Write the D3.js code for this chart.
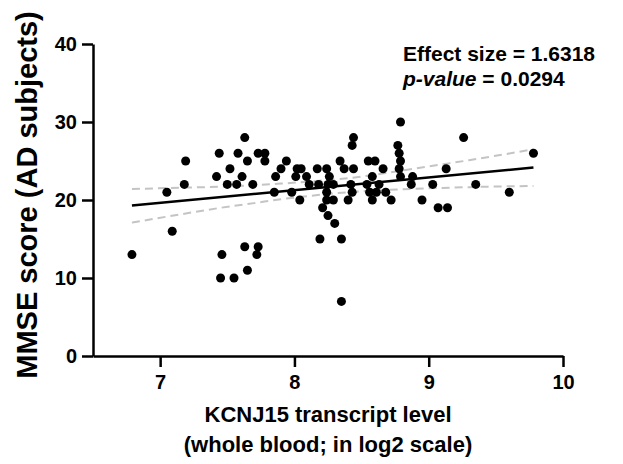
<!DOCTYPE html>
<html>
<head>
<meta charset="utf-8">
<script src="https://cdn.jsdelivr.net/npm/d3@7"></script>
<style>
  body { margin: 0; background: #fff; }
  text { font-family: "Liberation Sans", Arial, sans-serif; }
</style>
</head>
<body>
<div id="chart"></div>
<script>
// scatter points: KCNJ15 level (log2) vs MMSE score
const kcnj15 = [6.79, 7.05, 7.09, 7.18, 7.19, 7.42, 7.44, 7.46, 7.45, 7.50,
  7.52, 7.55, 7.57, 7.58, 7.61, 7.63, 7.65, 7.69, 7.73, 7.78,
  7.78, 7.63, 7.73, 7.72, 7.65, 7.86, 7.85, 7.90, 7.94, 7.98,
  8.01, 8.02, 8.05, 8.04, 8.09, 8.11, 8.17, 8.24, 8.26, 8.18,
  8.25, 8.24, 8.24, 8.21, 8.25, 8.30, 8.19, 8.35, 8.35, 8.34,
  8.37, 8.44, 8.44, 8.43, 8.29, 8.42, 8.54, 8.63, 8.43, 8.56,
  8.61, 8.68, 8.29, 8.40, 8.58, 8.72, 8.95, 8.55, 8.60, 8.66,
  8.78, 8.58, 8.79, 8.88, 8.79, 8.77, 8.78, 8.79, 8.87, 9.03,
  9.07, 9.14, 9.26, 9.78, 9.13, 9.35, 9.60];
const mmse = [13, 21, 16, 22, 25, 23, 26, 13, 10, 22,
  24, 10, 22, 26, 23, 28, 25, 22, 26, 26,
  25, 14, 14, 13, 11, 23, 21, 24, 25, 21,
  23, 24, 24, 20, 23, 22, 24, 24, 23, 22,
  22, 21, 20, 19, 18, 17, 15, 15, 7, 25,
  24, 24, 28, 27, 22, 22, 22, 22, 21, 21,
  21, 21, 20, 20, 20, 20, 20, 25, 25, 24,
  24, 23, 23, 23, 30, 27, 26, 25, 22, 22,
  19, 19, 28, 26, 24, 22, 21];

// regression line and 95% band
const fitX = [6.79, 9.78];
const fitY = [19.28, 24.16];
const bandX = [6.79, 7.2, 7.45, 7.7, 7.9, 8.1, 8.4, 8.7, 9.0, 9.3, 9.78];
const bandLow = [17.1, 18.3, 19.0, 19.6, 20.1, 20.5, 21.0, 21.3, 21.5, 21.65, 21.8];
const bandHigh = [21.4, 21.6, 21.7, 21.9, 22.1, 22.35, 22.8, 23.5, 24.3, 25.1, 26.5];

const xTicks = [7, 8, 9, 10];
const yTicks = [0, 10, 20, 30, 40];

const width = 623, height = 464;
const svg = d3.select("#chart").append("svg")
  .attr("width", width)
  .attr("height", height);

const x = d3.scaleLinear().domain([6.5, 10]).range([93, 563]);
const y = d3.scaleLinear().domain([0, 40]).range([356, 44]);

// confidence band
const line = d3.line().x(d => x(d[0])).y(d => y(d[1])).curve(d3.curveMonotoneX);
[bandLow, bandHigh].forEach(arr => {
  svg.append("path")
    .datum(bandX.map((v, i) => [v, arr[i]]))
    .attr("d", line)
    .attr("fill", "none")
    .attr("stroke", "#c4c4c4")
    .attr("stroke-width", 2)
    .attr("stroke-dasharray", "8,5");
});

// points
svg.append("g")
  .selectAll("circle")
  .data(kcnj15.map((v, i) => [v, mmse[i]]))
  .enter()
  .append("circle")
  .attr("cx", d => x(d[0]))
  .attr("cy", d => y(d[1]))
  .attr("r", 4.5)
  .attr("fill", "#000");

// fit line
svg.append("path")
  .datum(fitX.map((v, i) => [v, fitY[i]]))
  .attr("d", d3.line().x(d => x(d[0])).y(d => y(d[1])))
  .attr("stroke", "#000")
  .attr("stroke-width", 2.5)
  .attr("fill", "none");

// axes
const xAxis = svg.append("g")
  .attr("transform", "translate(0,356)")
  .call(d3.axisBottom(x).tickValues(xTicks).tickFormat(d3.format("d"))
    .tickSize(11).tickSizeOuter(0).tickPadding(8));
const yAxis = svg.append("g")
  .attr("transform", "translate(93,0)")
  .call(d3.axisLeft(y).tickValues(yTicks).tickFormat(d3.format("d"))
    .tickSize(11).tickSizeOuter(0).tickPadding(5));

[xAxis, yAxis].forEach(g => {
  g.select(".domain").attr("stroke-width", 2.5);
  g.selectAll(".tick line").attr("stroke-width", 2.5);
  g.selectAll(".tick text")
    .attr("fill", "#000")
    .style("font-size", "20px")
    .style("font-weight", "bold")
    .style("font-family", "'Liberation Sans', Arial, sans-serif");
});

// axis titles
svg.append("text")
  .attr("x", 328).attr("y", 422)
  .attr("text-anchor", "middle")
  .style("font-size", "22px").style("font-weight", "bold")
  .text("KCNJ15 transcript level");
svg.append("text")
  .attr("x", 328).attr("y", 452)
  .attr("text-anchor", "middle")
  .style("font-size", "22px").style("font-weight", "bold")
  .text("(whole blood; in log2 scale)");

svg.append("text")
  .attr("transform", "translate(37,195) rotate(-90)")
  .attr("text-anchor", "middle")
  .style("font-size", "29px").style("font-weight", "bold")
  .text("MMSE score (AD subjects)");

// stats annotation
svg.append("text")
  .attr("x", 403).attr("y", 61)
  .style("font-size", "21px").style("font-weight", "bold")
  .text("Effect size = 1.6318");
const pv = svg.append("text")
  .attr("x", 403).attr("y", 86)
  .style("font-size", "21px").style("font-weight", "bold");
pv.append("tspan").style("font-style", "italic").text("p-value");
pv.append("tspan").text(" = 0.0294");
</script>
</body>
</html>
